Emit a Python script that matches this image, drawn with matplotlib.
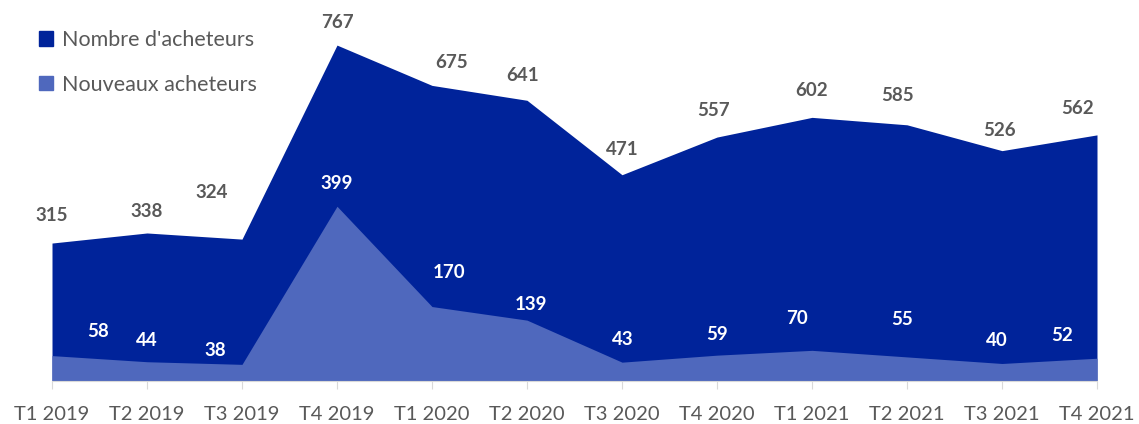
import numpy as np
import matplotlib.pyplot as plt
from matplotlib.patches import Patch

plt.rcParams['font.family'] = ['Lato', 'DejaVu Sans']

quarters = ["T1 2019", "T2 2019", "T3 2019", "T4 2019", "T1 2020", "T2 2020",
            "T3 2020", "T4 2020", "T1 2021", "T2 2021", "T3 2021", "T4 2021"]
total_buyers = [315, 338, 324, 767, 675, 641, 471, 557, 602, 585, 526, 562]
new_buyers = [58, 44, 38, 399, 170, 139, 43, 59, 70, 55, 40, 52]

# label nudges in pixels (dx, dy), as placed in the original
total_off = [(0, 28), (0, 21), (-30, 47), (0, 23), (20, 23), (-4, 25),
             (0, 25), (-4, 27), (0, 27), (-10, 29), (-3, 20), (-20, 26)]
new_off = [(46, 24), (0, 21), (-27, 14), (0, 23), (17, 34), (4, 16),
           (1, 23), (0, 21), (-15, 32), (-5, 37), (-5, 23), (-35, 23)]

dark = "#00239A"
light = "#4F68BD"
grey = "#595959"

fig = plt.figure(figsize=(11.39, 4.24), dpi=100)
ax = fig.add_axes([52 / 1139, 43 / 424, 1045 / 1139, 381 / 424])

x = np.arange(len(quarters))
ax.fill_between(x, total_buyers, color=dark, lw=0)
ax.fill_between(x, new_buyers, color=light, lw=0)

for xi, v, off in zip(x, total_buyers, total_off):
    ax.annotate(str(v), (xi, v), xytext=off, textcoords="offset pixels",
                ha="center", va="center", fontsize=13.5, fontweight="bold", color=grey)
for xi, v, off in zip(x, new_buyers, new_off):
    ax.annotate(str(v), (xi, v), xytext=off, textcoords="offset pixels",
                ha="center", va="center", fontsize=13.5, fontweight="bold", color="white")

ax.set_xlim(0, len(quarters) - 1)
ax.set_ylim(0, 870)
ax.set_xticks(x)
ax.set_xticklabels(quarters, fontsize=14.5, color=grey)
ax.tick_params(axis="x", length=6, color="#D9D9D9", pad=12)
ax.set_yticks([])
for s in ["top", "right", "left"]:
    ax.spines[s].set_visible(False)
ax.spines["bottom"].set_color("#D9D9D9")
ax.spines["bottom"].set_zorder(5)

handles = [Patch(color=dark, label="Nombre d'acheteurs"),
           Patch(color=light, label="Nouveaux acheteurs")]
fig.legend(handles=handles, loc="upper left", bbox_to_anchor=(39 / 1139, 1 - 30 / 424),
           frameon=False, fontsize=15.5, labelcolor=grey, handlelength=0.65,
           handleheight=0.65, handletextpad=0.4, labelspacing=1.15,
           borderaxespad=0, borderpad=0)

fig.savefig("out.png")
